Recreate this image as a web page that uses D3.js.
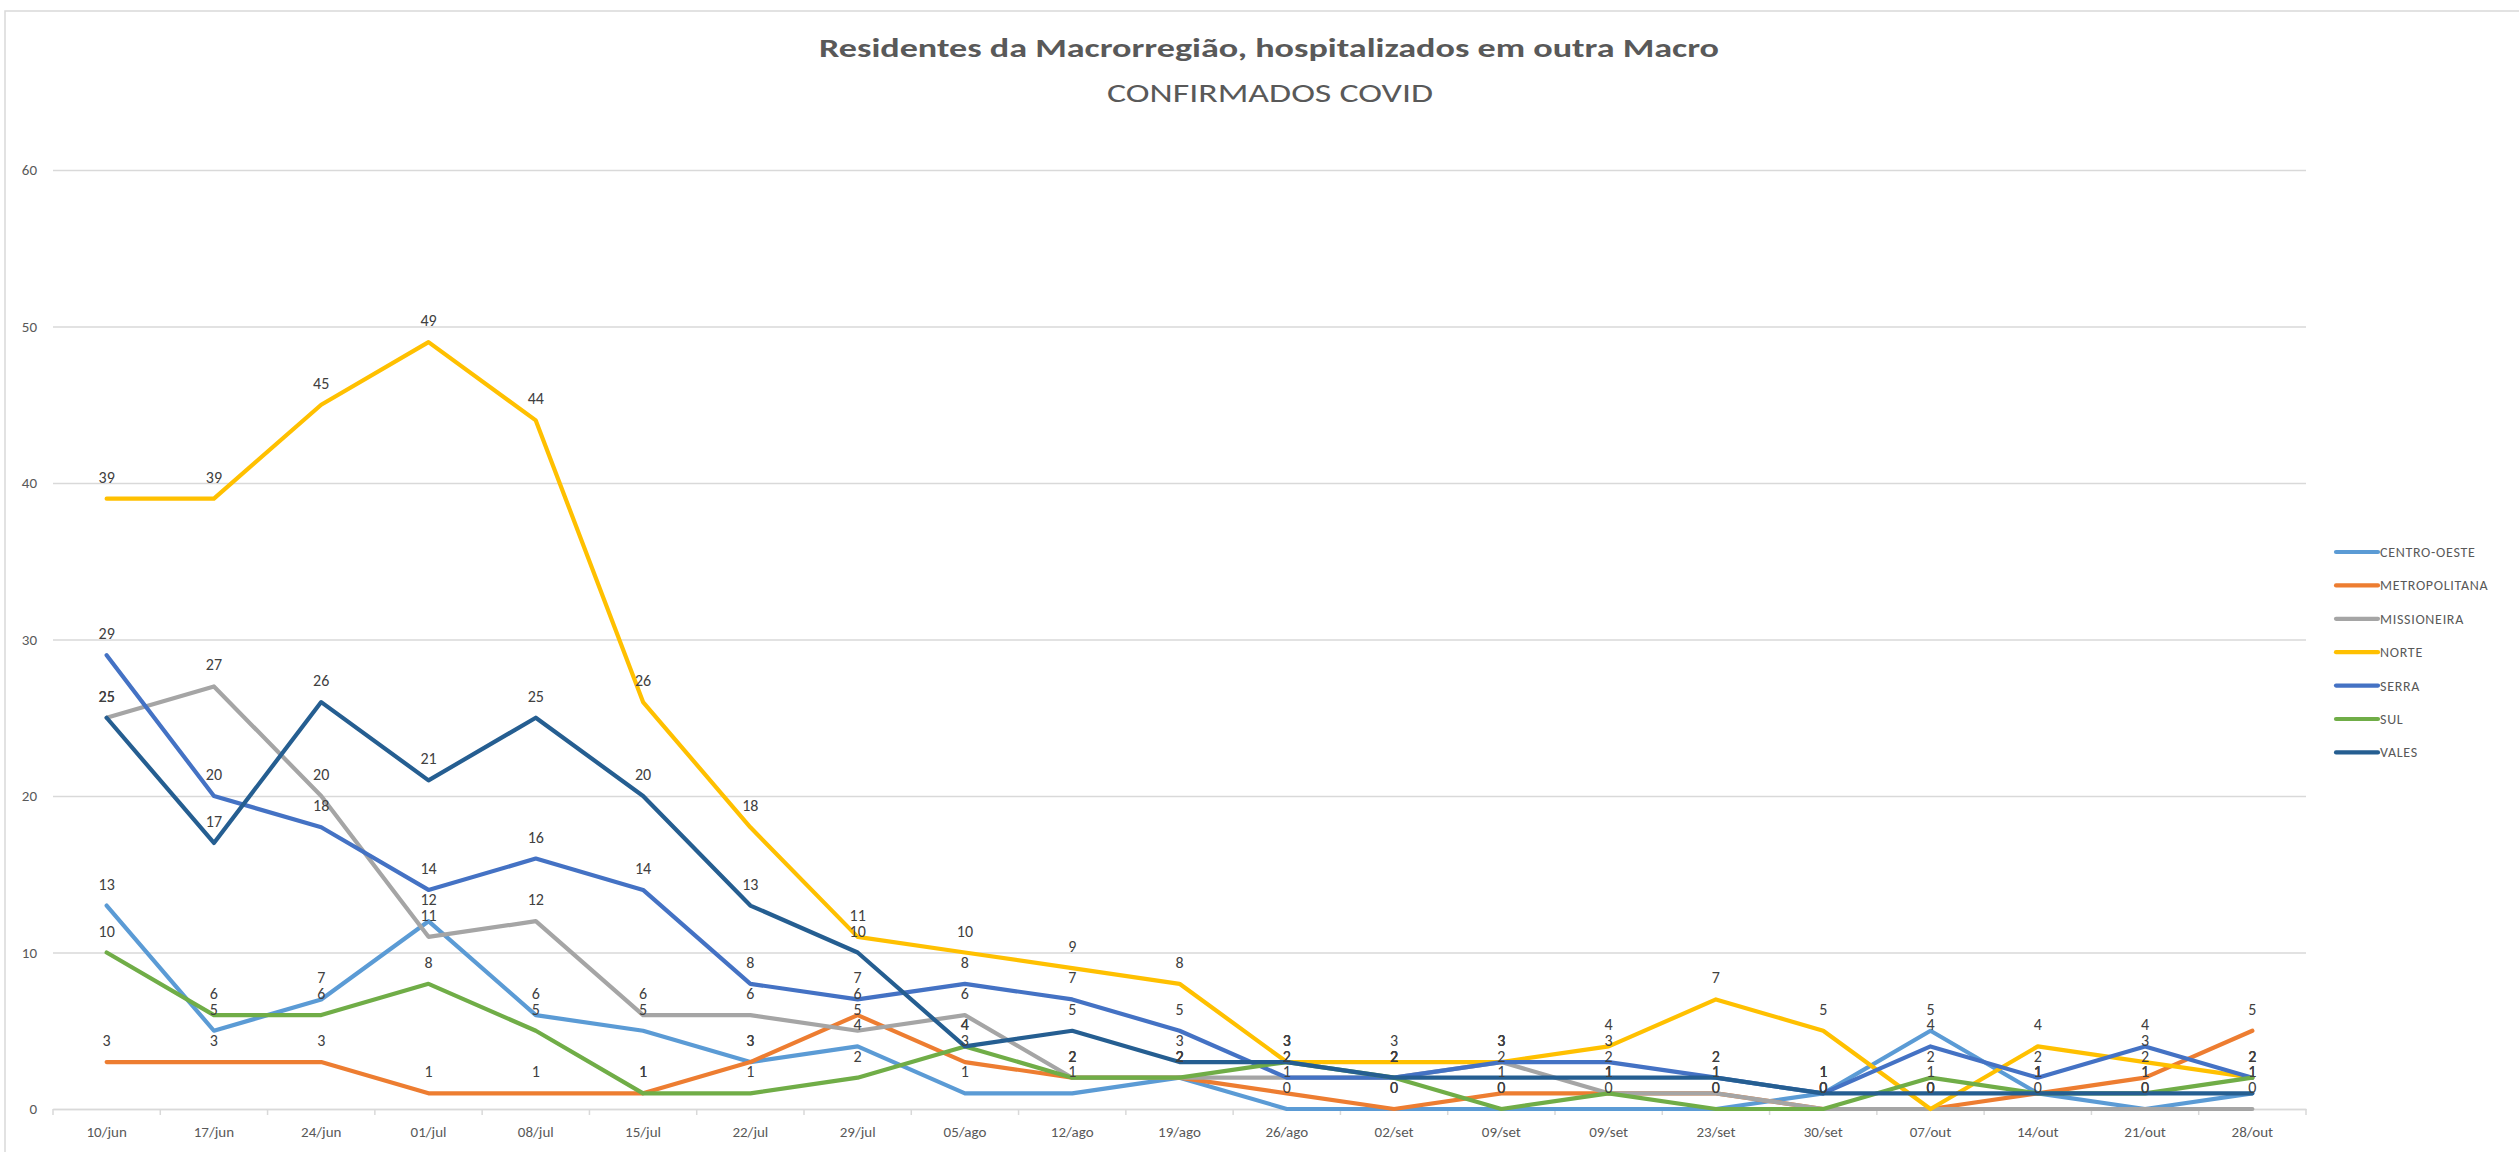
<!DOCTYPE html>
<html>
<head>
<meta charset="utf-8">
<script src="https://cdn.jsdelivr.net/npm/d3@7"></script>
<style>
  html, body { margin: 0; padding: 0; background: #fff; }
  svg { display: block; }
  text { font-family: Carlito, Lato, "Open Sans", sans-serif; }
</style>
</head>
<body>
<svg id="chart" width="2519" height="1152"></svg>
<script>
// ---------------- DATA ----------------
const categories = ["10/jun","17/jun","24/jun","01/jul","08/jul","15/jul","22/jul","29/jul","05/ago","12/ago","19/ago","26/ago","02/set","09/set","09/set","23/set","30/set","07/out","14/out","21/out","28/out"];
const seriesNames = ["CENTRO-OESTE","METROPOLITANA","MISSIONEIRA","NORTE","SERRA","SUL","VALES"];
const centroOeste   = [13, 5, 7, 12, 6, 5, 3, 4, 1, 1, 2, 0, 0, 0, 0, 0, 1, 5, 1, 0, 1];
const metropolitana = [3, 3, 3, 1, 1, 1, 3, 6, 3, 2, 2, 1, 0, 1, 1, 1, 0, 0, 1, 2, 5];
const missioneira   = [25, 27, 20, 11, 12, 6, 6, 5, 6, 2, 2, 2, 2, 3, 1, 1, 0, 0, 0, 0, 0];
const norte         = [39, 39, 45, 49, 44, 26, 18, 11, 10, 9, 8, 3, 3, 3, 4, 7, 5, 0, 4, 3, 2];
const serra         = [29, 20, 18, 14, 16, 14, 8, 7, 8, 7, 5, 2, 2, 3, 3, 2, 1, 4, 2, 4, 2];
const sul           = [10, 6, 6, 8, 5, 1, 1, 2, 4, 2, 2, 3, 2, 0, 1, 0, 0, 2, 1, 1, 2];
const vales         = [25, 17, 26, 21, 25, 20, 13, 10, 4, 5, 3, 3, 2, 2, 2, 2, 1, 1, 1, 1, 1];
const yTicks = [0, 10, 20, 30, 40, 50, 60];
const titleText = "Residentes da Macrorregião, hospitalizados em outra Macro";
const subtitleText = "CONFIRMADOS COVID";

const seriesValues = [centroOeste, metropolitana, missioneira, norte, serra, sul, vales];
const colors = ["#5B9BD5", "#ED7D31", "#A5A5A5", "#FFC000", "#4472C4", "#70AD47", "#255E91"];

// ---------------- LAYOUT ----------------
const svg = d3.select("#chart");
const plotLeft = 53, plotRight = 2306, plotTop = 170, plotBottom = 1109;
const gridColor = "#D9D9D9";
const textColor = "#595959";

// chart border (top + left visible)
svg.append("rect")
  .attr("x", 5).attr("y", 11).attr("width", 2700).attr("height", 1300)
  .attr("fill", "none").attr("stroke", gridColor).attr("stroke-width", 1.5);

const x = d3.scaleBand().domain(d3.range(categories.length)).range([plotLeft, plotRight]).padding(0);
const y = d3.scaleLinear().domain([0, 60]).range([plotBottom, plotTop]);
const cx = i => x(i) + x.bandwidth() / 2;

// Y axis with gridlines
const yAxis = svg.append("g")
  .attr("transform", `translate(${plotLeft},0)`)
  .call(d3.axisLeft(y).tickValues(yTicks).tickSize(-(plotRight - plotLeft)).tickPadding(16).tickFormat(d3.format("d")));
yAxis.select(".domain").remove();
yAxis.selectAll(".tick line").attr("stroke", gridColor).attr("stroke-width", 1.5);
yAxis.selectAll(".tick text").attr("fill", textColor).style("font-size", "15px");

// X axis
const xAxis = svg.append("g")
  .attr("transform", `translate(0,${plotBottom})`)
  .call(d3.axisBottom(x).tickSize(0).tickPadding(17).tickFormat(i => categories[i]));
xAxis.select(".domain").attr("stroke", gridColor).attr("stroke-width", 1.5);
xAxis.selectAll(".tick text").attr("fill", textColor).style("font-size", "15px");
// boundary tick marks
const bounds = d3.range(categories.length).map(i => x(i)).concat([x.range()[1]]);
svg.append("g").selectAll("line").data(bounds).join("line")
  .attr("x1", d => d).attr("x2", d => d)
  .attr("y1", plotBottom).attr("y2", plotBottom + 6)
  .attr("stroke", gridColor).attr("stroke-width", 1.5);

// Lines
const line = d3.line().x((d, i) => cx(i)).y(d => y(d));
svg.append("g").selectAll("path").data(seriesValues).join("path")
  .attr("d", d => line(d))
  .attr("fill", "none")
  .attr("stroke", (d, i) => colors[i])
  .attr("stroke-width", 4.2)
  .attr("stroke-linejoin", "round")
  .attr("stroke-linecap", "round");

// Data labels (above points)
const labelG = svg.append("g");
seriesValues.forEach(vals => {
  labelG.selectAll(null).data(vals).join("text")
    .attr("x", (d, i) => cx(i))
    .attr("y", d => y(d) - 16)
    .attr("text-anchor", "middle")
    .attr("fill", "#404040")
    .style("font-size", "16px")
    .text(d => d);
});

// Title
svg.append("text")
  .attr("x", 1269).attr("y", 57)
  .attr("text-anchor", "middle")
  .attr("fill", textColor)
  .style("font-size", "27px").style("font-weight", "bold")
  .attr("textLength", 900).attr("lengthAdjust", "spacingAndGlyphs")
  .text(titleText);
svg.append("text")
  .attr("x", 1270).attr("y", 102)
  .attr("text-anchor", "middle")
  .attr("fill", textColor)
  .style("font-size", "26px")
  .attr("textLength", 326).attr("lengthAdjust", "spacingAndGlyphs")
  .text(subtitleText);

// Legend
const legend = svg.append("g");
const legY0 = 552, legStep = 33.4;
seriesNames.forEach((name, i) => {
  const ly = legY0 + i * legStep;
  legend.append("line")
    .attr("x1", 2336).attr("x2", 2378).attr("y1", ly).attr("y2", ly)
    .attr("stroke", colors[i]).attr("stroke-width", 4.2).attr("stroke-linecap", "round");
  legend.append("text")
    .attr("x", 2380).attr("y", ly + 5)
    .attr("fill", textColor)
    .style("font-size", "14px")
    .style("letter-spacing", "0.7px")
    .text(name);
});
</script>
</body>
</html>
